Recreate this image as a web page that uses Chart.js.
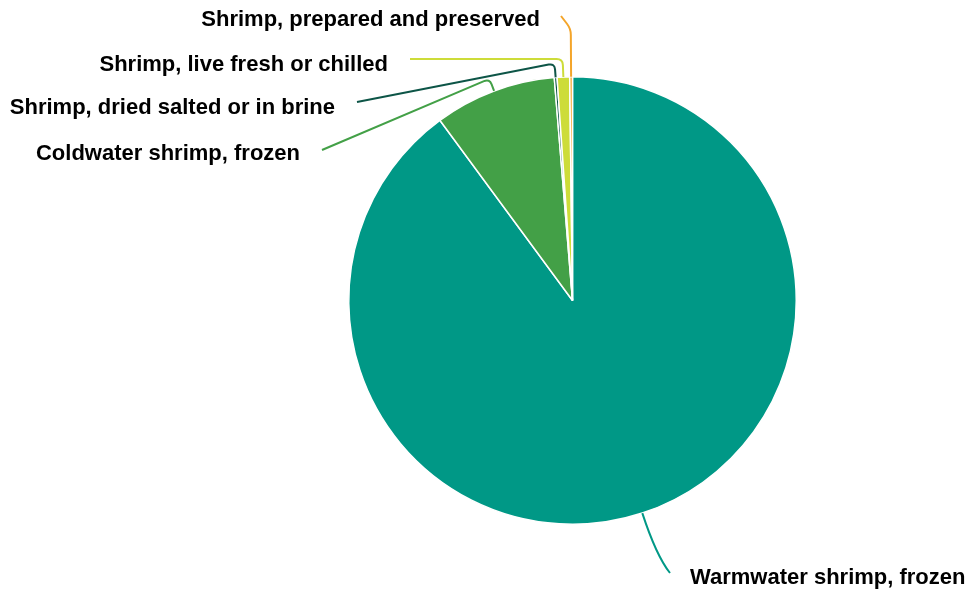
<!DOCTYPE html>
<html>
<head>
<meta charset="utf-8">
<script src="https://cdn.jsdelivr.net/npm/chart.js@4"></script>
<style>
    html, body { margin: 0; padding: 0; background: #ffffff; }
    #wrap { width: 968px; height: 589px; position: relative; }
</style>
</head>
<body>
<div id="wrap"><canvas id="shrimpChart"></canvas></div>
<script>
// ==========================================
// DATA
// ==========================================

const categories = [
    "Warmwater shrimp, frozen",
    "Coldwater shrimp, frozen",
    "Shrimp, dried salted or in brine",
    "Shrimp, live fresh or chilled",
    "Shrimp, prepared and preserved"
];

const shares = [89.9, 8.8, 0.2, 0.9, 0.2];

const sliceColors = ["#009886", "#43a047", "#0d5547", "#cddc39", "#f4a52a"];

// ==========================================
// LABEL LAYOUT (text anchor, line end, elbow distance)
// ==========================================

const labelLayout = [
    { tx: 690, ty: 578, align: "left",  ex: 670, ey: 573, out: 45, curve: true },
    { tx: 300, ty: 154, align: "right", ex: 322, ey: 150, out: 13 },
    { tx: 335, ty: 108, align: "right", ex: 357, ey: 102, out: 14 },
    { tx: 388, ty: 65,  align: "right", ex: 410, ey: 59,  out: 18 },
    { tx: 540, ty: 20,  align: "right", ex: 561, ey: 16,  out: 48 }
];

// ==========================================
// LEADER LINE PLUGIN
// ==========================================

const leaderLabels = {
    id: "leaderLabels",
    afterDatasetsDraw(chart) {
        const ctx = chart.ctx;
        const arcs = chart.getDatasetMeta(0).data;

        ctx.save();
        arcs.forEach(function (arc, i) {
            const lay = labelLayout[i];
            const mid = (arc.startAngle + arc.endAngle) / 2;
            const ax = arc.x + Math.cos(mid) * arc.outerRadius;
            const ay = arc.y + Math.sin(mid) * arc.outerRadius;
            const bx = arc.x + Math.cos(mid) * (arc.outerRadius + lay.out);
            const by = arc.y + Math.sin(mid) * (arc.outerRadius + lay.out);

            ctx.strokeStyle = sliceColors[i];
            ctx.lineWidth = 2;
            ctx.beginPath();
            ctx.moveTo(ax, ay);

            if (lay.curve) {
                ctx.quadraticCurveTo(bx, by, lay.ex, lay.ey);
            } else {
                const r = 6;
                const d1 = Math.hypot(bx - ax, by - ay);
                const d2 = Math.hypot(lay.ex - bx, lay.ey - by);
                const p1x = bx - (bx - ax) / d1 * r;
                const p1y = by - (by - ay) / d1 * r;
                const p2x = bx + (lay.ex - bx) / d2 * r;
                const p2y = by + (lay.ey - by) / d2 * r;
                ctx.lineTo(p1x, p1y);
                ctx.quadraticCurveTo(bx, by, p2x, p2y);
                ctx.lineTo(lay.ex, lay.ey);
            }
            ctx.stroke();

            ctx.fillStyle = "#000000";
            ctx.font = "bold 22px 'Liberation Sans', Arial, sans-serif";
            ctx.textAlign = lay.align;
            ctx.textBaseline = "middle";
            ctx.fillText(categories[i], lay.tx, lay.ty);
        });
        ctx.restore();
    }
};

// ==========================================
// PIE CHART
// ==========================================

new Chart(document.getElementById("shrimpChart"), {
    type: "pie",
    data: {
        labels: categories,
        datasets: [
            {
                data: shares,
                backgroundColor: sliceColors,
                borderColor: "#ffffff",
                borderWidth: 1.5,
            }
        ]
    },
    options: {
        responsive: true,
        maintainAspectRatio: false,
        animation: false,
        layout: {
            padding: { top: 76, bottom: 64, left: 348, right: 171 }
        },
        plugins: {
            legend: { display: false },
            tooltip: { enabled: false }
        }
    },
    plugins: [leaderLabels]
});
</script>
</body>
</html>
